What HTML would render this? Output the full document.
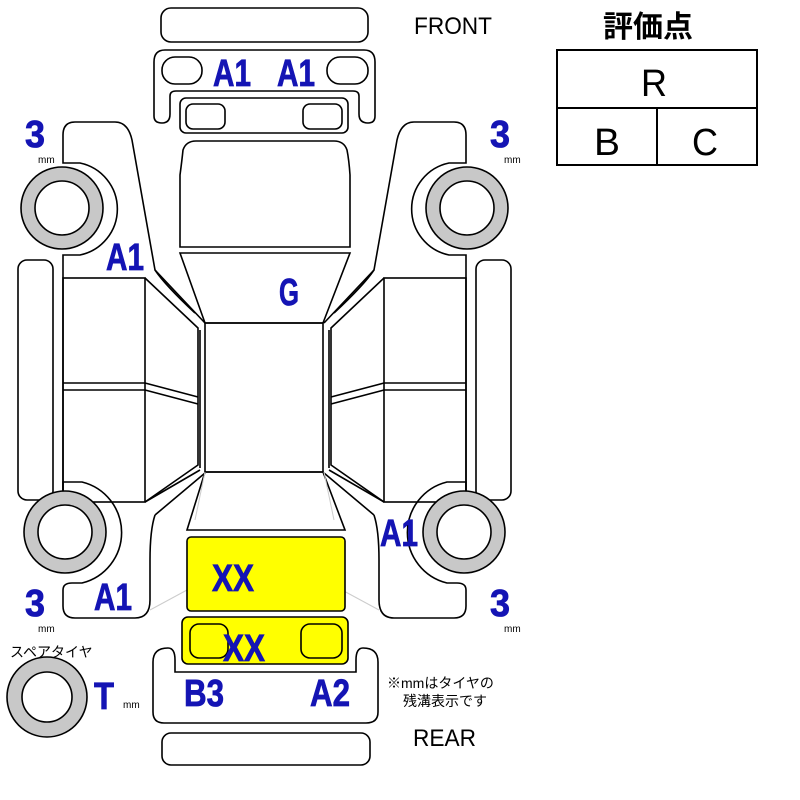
<!DOCTYPE html>
<html><head><style>
html,body{margin:0;padding:0;background:#fff;width:800px;height:800px;overflow:hidden}
svg{display:block}
.b{font-family:"Liberation Sans",sans-serif;font-weight:bold;fill:#1414b4;stroke:#1414b4;stroke-width:0.8}
.k{font-family:"Liberation Sans","Noto Sans CJK JP",sans-serif;fill:#000}
</style></head><body>
<svg width="800" height="800" viewBox="0 0 800 800" xmlns="http://www.w3.org/2000/svg">
<g fill="none" stroke="#000" stroke-width="1.6">
<rect x="161" y="8" width="207" height="34" rx="10"/>
<path d="M165,50 H364 Q375,50 375,62 V116 Q375,123 368,123 Q359,123 359,114 V96 Q359,91 353,91 H176 Q170,91 170,96 V114 Q170,123 162,123 Q154,123 154,116 V62 Q154,50 165,50 Z"/>
<rect x="162" y="57" width="40" height="27" rx="13"/>
<rect x="327" y="57" width="41" height="27" rx="13"/>
<rect x="180" y="98" width="168" height="35" rx="6"/>
<rect x="186" y="104" width="39" height="25" rx="7"/>
<rect x="303" y="104" width="39" height="25" rx="7"/>
<path d="M180,247 V175 Q182,160 183,150 Q186,141 196,141 H334 Q344,141 347,150 Q349,160 350,175 V247 Z"/>
<path d="M180,253 H350 L323,323 H205 Z"/>
<rect x="205" y="323" width="118" height="149"/>
<path d="M205,472 H323 L345,530 H187 Z"/>
<path d="M168,648 Q175,648 175,660 V672 H356 V660 Q356,648 363,648 Q378,648 378,662 V712 Q378,723 366,723 H164 Q153,723 153,712 V662 Q153,648 168,648 Z"/>
<rect x="162" y="733" width="208" height="32" rx="9"/>
<g id="side">
<path d="M63,135 Q63,122 75,122 H115 Q128,122 132,140 L155,270 L205,323"/>
<path d="M63,135 V163 H80 A47,47 0 0 1 80,255 H63 V262"/>
<path d="M155,270 Q165,285 195,313" />
<rect x="18" y="260" width="35" height="240" rx="9"/>
<path d="M63,262 V502"/>
<rect x="63" y="278" width="82" height="224"/>
<line x1="63" y1="383" x2="145" y2="383"/>
<line x1="63" y1="390" x2="145" y2="390"/>
<path d="M145,278 L198,328 V465 L145,502"/>
<path d="M145,383 L198,397 M145,390 L198,404"/>
<path d="M200,330 V468"/>
<path d="M145,502 L200,470 M155,515 L205,473"/>
<path d="M155,515 Q150,530 150,560 V600 Q150,618 135,618 H75 Q63,618 63,606 V590 Q63,583 72,583 H82 A52,52 0 0 0 82,482 H63 V502"/>
<line x1="205" y1="472" x2="195" y2="520" stroke="#ccc" stroke-width="1"/>
<path d="M150,610 L187,590" stroke="#ccc" stroke-width="1"/>
<circle cx="62" cy="208" r="41" fill="#c8c8c8"/>
<circle cx="62" cy="208" r="27" fill="#fff"/>
<circle cx="65" cy="532" r="41" fill="#c8c8c8"/>
<circle cx="65" cy="532" r="27" fill="#fff"/>
</g>
<use href="#side" transform="translate(529,0) scale(-1,1)"/>
<rect x="187" y="537" width="158" height="74" rx="4" fill="#ffff00"/>
<rect x="182" y="617" width="166" height="47" rx="6" fill="#ffff00"/>
<rect x="190" y="624" width="38" height="34" rx="9"/>
<rect x="301" y="624" width="41" height="34" rx="9"/>
<circle cx="47" cy="697" r="40" fill="#c8c8c8"/>
<circle cx="47" cy="697" r="25" fill="#fff"/>
<rect x="557" y="50" width="200" height="115" stroke-width="2"/>
<line x1="557" y1="108" x2="757" y2="108" stroke-width="2"/>
<line x1="657" y1="108" x2="657" y2="165" stroke-width="2"/>
</g>
<g class="b" font-size="38">
<text x="213" y="86" textLength="38" lengthAdjust="spacingAndGlyphs">A1</text>
<text x="277" y="86" textLength="38" lengthAdjust="spacingAndGlyphs">A1</text>
<text x="106" y="270" textLength="38" lengthAdjust="spacingAndGlyphs">A1</text>
<text x="279" y="305" textLength="20" lengthAdjust="spacingAndGlyphs">G</text>
<text x="380" y="546" textLength="38" lengthAdjust="spacingAndGlyphs">A1</text>
<text x="94" y="610" textLength="38" lengthAdjust="spacingAndGlyphs">A1</text>
<text x="212" y="591" textLength="42" lengthAdjust="spacingAndGlyphs">XX</text>
<text x="223" y="661" textLength="42" lengthAdjust="spacingAndGlyphs">XX</text>
<text x="184" y="706" textLength="40" lengthAdjust="spacingAndGlyphs">B3</text>
<text x="310" y="706" textLength="40" lengthAdjust="spacingAndGlyphs">A2</text>
<text x="94" y="709" textLength="20" lengthAdjust="spacingAndGlyphs">T</text>
<text x="25" y="147" textLength="20" lengthAdjust="spacingAndGlyphs">3</text>
<text x="490" y="147" textLength="20" lengthAdjust="spacingAndGlyphs">3</text>
<text x="25" y="616" textLength="20" lengthAdjust="spacingAndGlyphs">3</text>
<text x="490" y="616" textLength="20" lengthAdjust="spacingAndGlyphs">3</text>
</g>
<g class="k" font-size="10">
<text x="38" y="163">mm</text><text x="504" y="163">mm</text>
<text x="38" y="632">mm</text><text x="504" y="632">mm</text>
<text x="123" y="708">mm</text>
</g>
<g class="k">
<text x="414" y="34" font-size="24" textLength="78" lengthAdjust="spacingAndGlyphs">FRONT</text>
<text x="413" y="746" font-size="24" textLength="63" lengthAdjust="spacingAndGlyphs">REAR</text>
<text x="10" y="657" font-size="14">スペアタイヤ</text>
<text x="387" y="688" font-size="14">※mmはタイヤの</text>
<text x="403" y="706" font-size="14">残溝表示です</text>
<text x="603" y="37" font-size="30" font-weight="bold">評価点</text>
<text x="641" y="96" font-size="38" textLength="26" lengthAdjust="spacingAndGlyphs">R</text>
<text x="594" y="155" font-size="38" textLength="26" lengthAdjust="spacingAndGlyphs">B</text>
<text x="692" y="155" font-size="38" textLength="26" lengthAdjust="spacingAndGlyphs">C</text>
</g>
</svg>
</body></html>
